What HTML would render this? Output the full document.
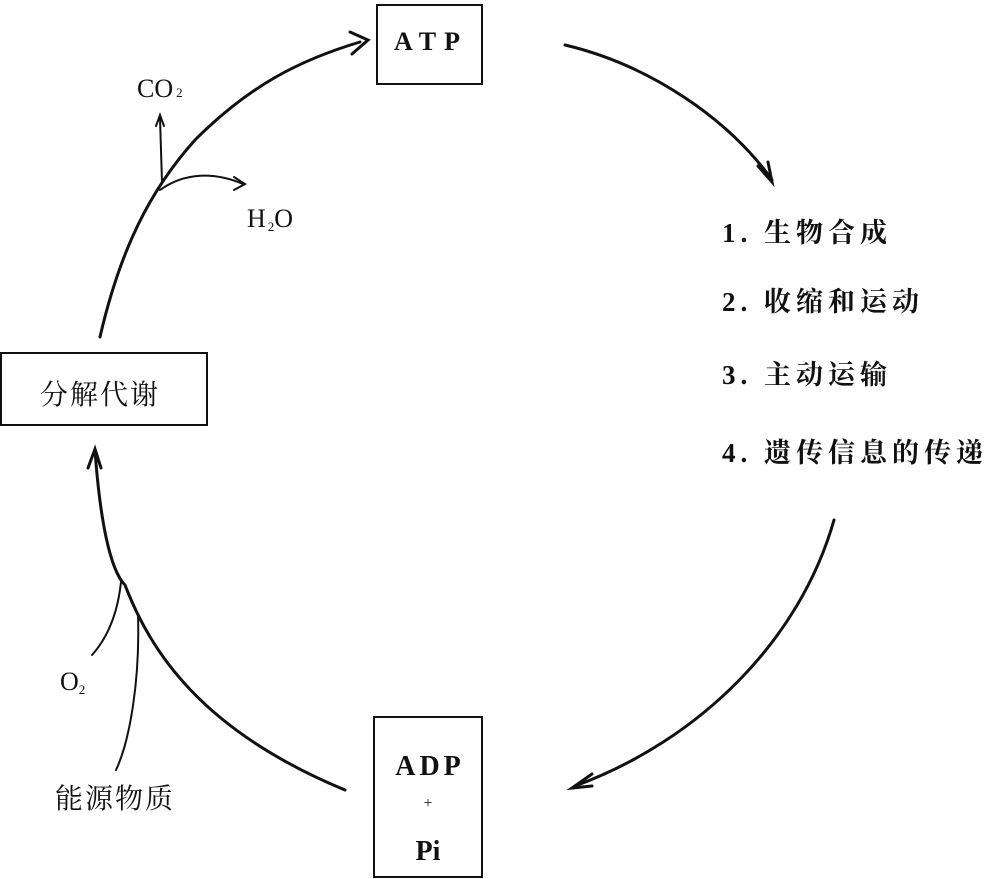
<!DOCTYPE html>
<html><head><meta charset="utf-8"><style>
html,body{margin:0;padding:0;background:#fff;}
svg{display:block;}
text{fill:#111;}
.cj{font-family:"Liberation Serif","Noto Serif CJK SC","Noto Sans CJK SC",serif;}
.lt{font-family:"Liberation Serif",serif;}
</style></head><body>
<svg width="986" height="879" viewBox="0 0 986 879" xmlns="http://www.w3.org/2000/svg">
<g fill="none" stroke="#111" stroke-linecap="round">
<rect x="377" y="5" width="105" height="79" stroke-width="2"/>
<rect x="1" y="353" width="206" height="72" stroke-width="2"/>
<rect x="374" y="717" width="108" height="160" stroke-width="2"/>
<path d="M100,337 C120,250 150,190 195,140 C250,85 300,60 360,42" stroke-width="3"/>
<path d="M350,32 L368,40 L352,54" stroke-width="3"/>
<path d="M162,182 L160,118" stroke-width="2"/>
<path d="M156,126 L160,115 L164,126" stroke-width="2"/>
<path d="M160,190 C185,172 215,172 243,184" stroke-width="2"/>
<path d="M234,177 L245,184 L234,190" stroke-width="2"/>
<path d="M565,45 C650,65 730,120 772,180" stroke-width="3"/>
<path d="M758,166 L772,182 L768,162" stroke-width="3"/>
<path d="M834,520 C800,640 700,740 575,786" stroke-width="3"/>
<path d="M592,774 L572,788 L592,786" stroke-width="3"/>
<path d="M95,450 C100,520 110,570 125,585 C150,650 200,730 345,790" stroke-width="3"/>
<path d="M88,468 L95,449 L101,468" stroke-width="3"/>
<path d="M121,582 C118,610 110,635 92,655" stroke-width="2"/>
<path d="M138,615 C140,680 130,740 116,770" stroke-width="2"/>
</g>
<text x="431" y="50" class="lt" font-size="26" font-weight="bold" text-anchor="middle" letter-spacing="8">ATP</text>
<text x="100" y="404" class="cj" font-size="28" text-anchor="middle" letter-spacing="2">分解代谢</text>
<text x="137" y="97" class="lt" font-size="26">CO<tspan font-size="13" dx="3">2</tspan></text>
<text x="247" y="227" class="lt" font-size="26">H<tspan font-size="13" dx="2" dy="4">2</tspan><tspan dy="-4">O</tspan></text>
<text x="60" y="690" class="lt" font-size="26">O<tspan font-size="13" dy="4">2</tspan></text>
<text x="55" y="808" class="cj" font-size="28" letter-spacing="2">能源物质</text>
<text x="430" y="775" class="lt" font-size="28" font-weight="bold" text-anchor="middle" letter-spacing="4">ADP</text>
<text x="428" y="808" class="lt" font-size="16" text-anchor="middle">+</text>
<text x="428" y="860" class="lt" font-size="28" font-weight="bold" text-anchor="middle">Pi</text>
<g class="cj" font-size="27" letter-spacing="5" font-weight="bold">
<text x="722" y="242" fill="#444">1. 生物合成</text>
<text x="722" y="311">2. 收缩和运动</text>
<text x="722" y="384">3. 主动运输</text>
<text x="722" y="462">4. 遗传信息的传递</text>
</g>
</svg>
</body></html>
